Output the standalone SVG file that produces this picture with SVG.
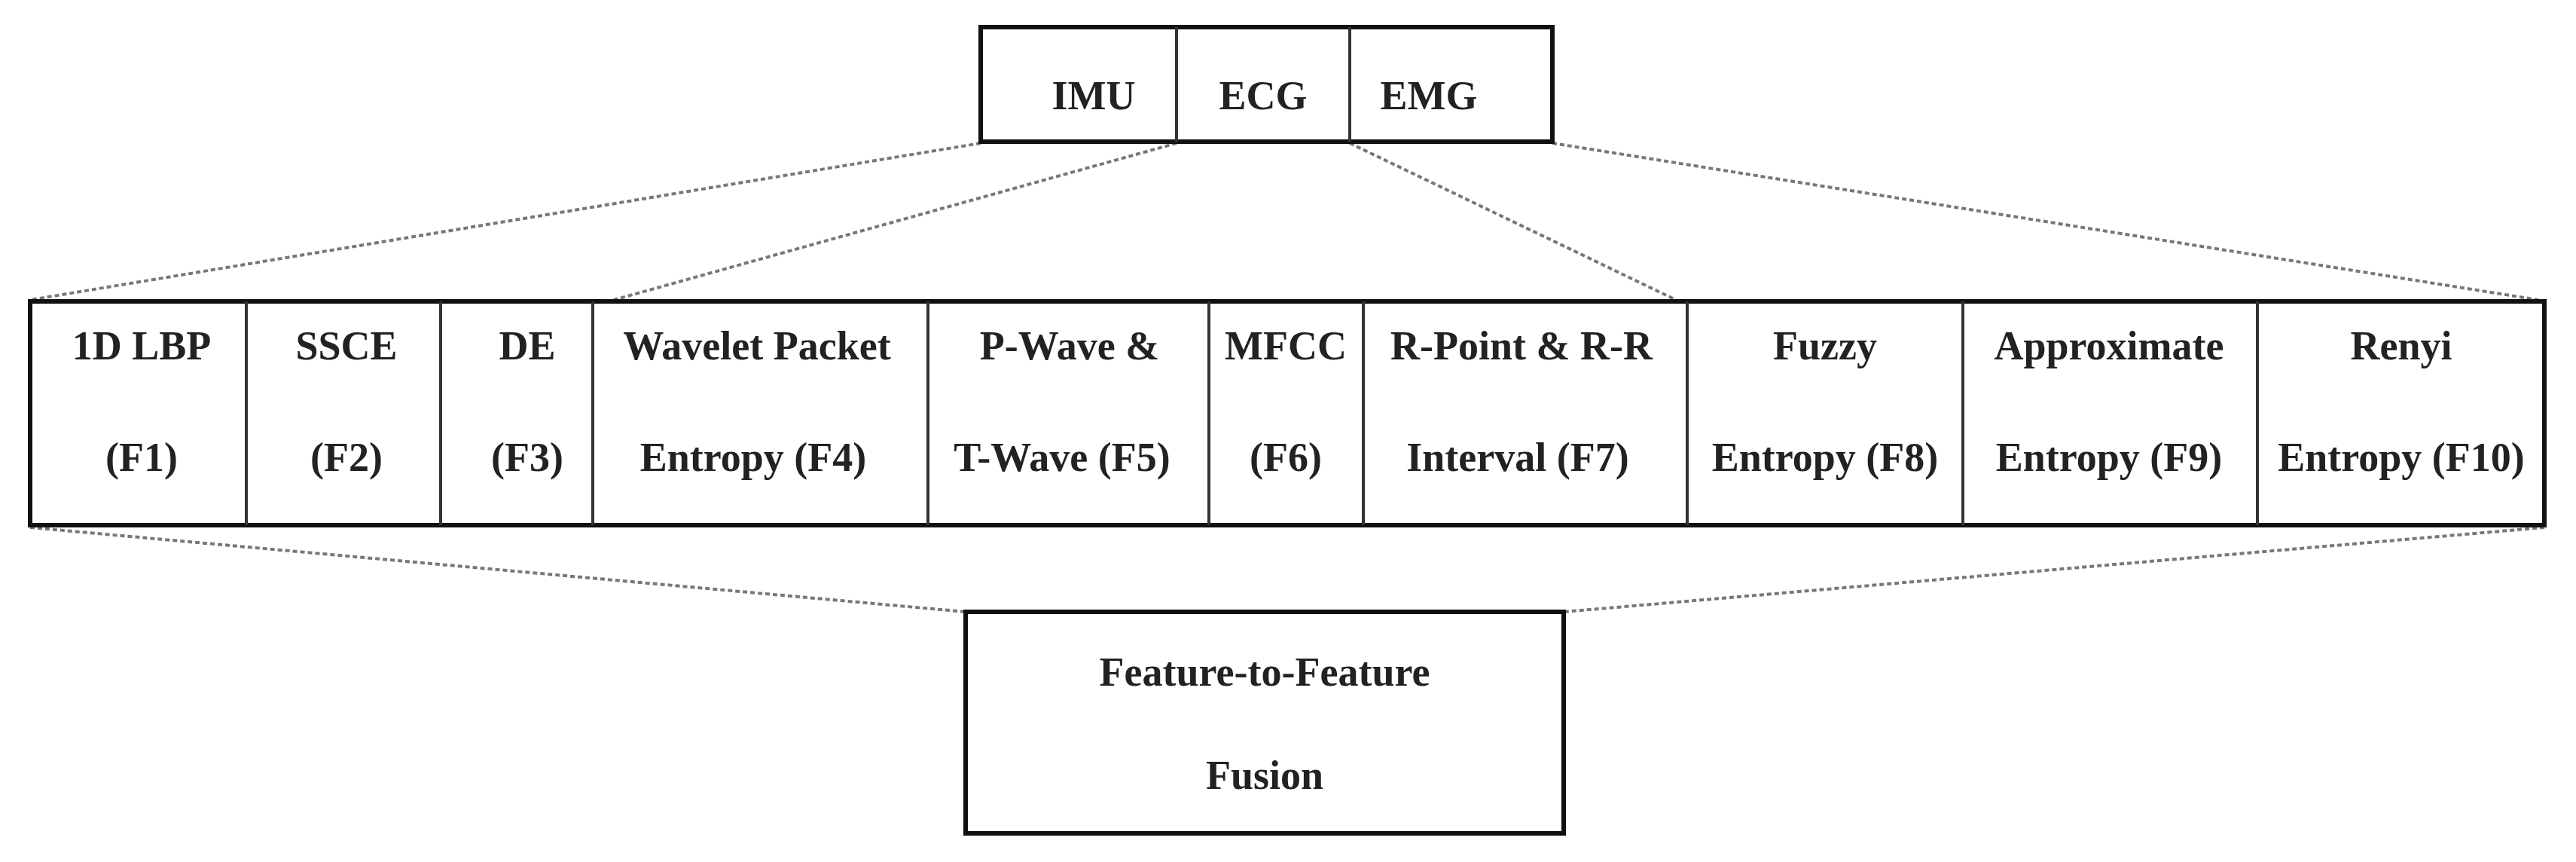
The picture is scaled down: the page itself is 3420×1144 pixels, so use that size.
<svg xmlns="http://www.w3.org/2000/svg" width="3420" height="1144" viewBox="0 0 3420 1144">
<style>
.box{fill:#fff;stroke:#111;stroke-width:6}
.div{stroke:#333;stroke-width:4}
.t{font-family:"Liberation Serif",serif;font-weight:bold;font-size:54px;fill:#222;text-anchor:middle}
.c{fill:none;stroke:#777;stroke-width:4;stroke-dasharray:6 4}
</style>
<rect width="3420" height="1144" fill="#fff"/>
<g id="connectors">
<line class="c" x1="1302" y1="190" x2="40" y2="398"/>
<line class="c" x1="1562" y1="190" x2="815" y2="398"/>
<line class="c" x1="1792" y1="190" x2="2225" y2="398"/>
<line class="c" x1="2061" y1="190" x2="3370" y2="398"/>
<line class="c" x1="40" y1="700" x2="1282" y2="812"/>
<line class="c" x1="3378" y1="700" x2="2076" y2="812"/>
</g>
<g id="sensors">
<rect class="box" x="1302" y="36" width="759" height="152"/>
<line class="div" x1="1562" y1="36" x2="1562" y2="188"/>
<line class="div" x1="1792" y1="36" x2="1792" y2="188"/>
<text class="t" x="1452" y="145">IMU</text>
<text class="t" x="1677" y="145">ECG</text>
<text class="t" x="1897" y="145">EMG</text>
</g>
<g id="features">
<rect class="box" x="40" y="400" width="3338" height="297"/>
<line class="div" x1="327" y1="400" x2="327" y2="697"/>
<line class="div" x1="585" y1="400" x2="585" y2="697"/>
<line class="div" x1="787" y1="400" x2="787" y2="697"/>
<line class="div" x1="1232" y1="400" x2="1232" y2="697"/>
<line class="div" x1="1605" y1="400" x2="1605" y2="697"/>
<line class="div" x1="1810" y1="400" x2="1810" y2="697"/>
<line class="div" x1="2240" y1="400" x2="2240" y2="697"/>
<line class="div" x1="2606" y1="400" x2="2606" y2="697"/>
<line class="div" x1="2997" y1="400" x2="2997" y2="697"/>
<g id="f1"><text class="t" x="188" y="477">1D LBP</text><text class="t" x="188" y="625">(F1)</text></g>
<g id="f2"><text class="t" x="460" y="477">SSCE</text><text class="t" x="460" y="625">(F2)</text></g>
<g id="f3"><text class="t" x="700" y="477">DE</text><text class="t" x="700" y="625">(F3)</text></g>
<g id="f4"><text class="t" x="1005" y="477">Wavelet Packet</text><text class="t" x="1000" y="625">Entropy (F4)</text></g>
<g id="f5"><text class="t" x="1420" y="477">P-Wave &amp;</text><text class="t" x="1410" y="625">T-Wave (F5)</text></g>
<g id="f6"><text class="t" x="1707" y="477">MFCC</text><text class="t" x="1707" y="625">(F6)</text></g>
<g id="f7"><text class="t" x="2020" y="477">R-Point &amp; R-R</text><text class="t" x="2015" y="625">Interval (F7)</text></g>
<g id="f8"><text class="t" x="2423" y="477">Fuzzy</text><text class="t" x="2423" y="625">Entropy (F8)</text></g>
<g id="f9"><text class="t" x="2800" y="477">Approximate</text><text class="t" x="2800" y="625">Entropy (F9)</text></g>
<g id="f10"><text class="t" x="3188" y="477">Renyi</text><text class="t" x="3188" y="625">Entropy (F10)</text></g>
</g>
<g id="fusion">
<rect class="box" x="1282" y="812" width="794" height="294"/>
<text class="t" x="1679" y="910">Feature-to-Feature</text>
<text class="t" x="1679" y="1047">Fusion</text>
</g>
</svg>
